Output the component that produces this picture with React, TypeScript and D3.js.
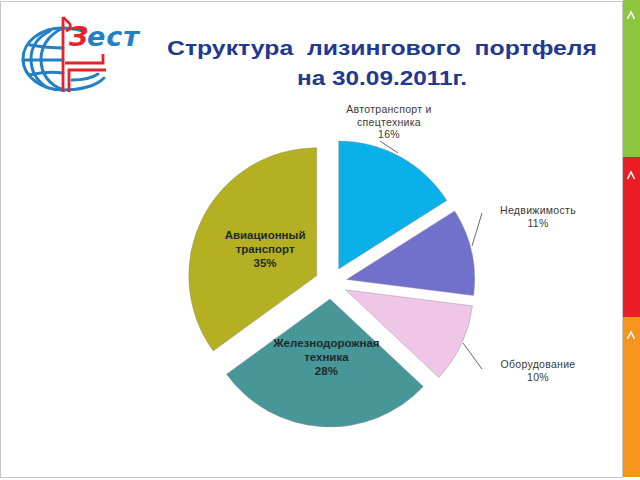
import React from "react";
import * as d3 from "d3";

const categories = ["Автотранспорт и спецтехника", "Недвижимость", "Оборудование", "Железнодорожная техника", "Авиационный транспорт"];
const values = [16, 11, 10, 28, 35];
const colors = ["#0AB0EA", "#7171CB", "#F0C6E8", "#479799", "#B5AF22"];
const labelLines = [["Автотранспорт и", "спецтехника"], ["Недвижимость"], ["Оборудование"], ["Железнодорожная", "техника"], ["Авиационный", "транспорт"]];
const titleLines = ["Структура  лизингового  портфеля", "на 30.09.2011г."];
const stripColors = ["#8CC63E", "#EC1C24", "#F6941E"];

// layout
const W = 640, H = 480;
const cx = 331, cy = 283, R = 128, explode = 16;
const titleWidths = [430, 170];
const outside: Record<number, { x: number; y: number; line: [number, number, number, number] }> = {
  0: { x: 389, y: 113, line: [380, 141, 398, 153] },
  1: { x: 538, y: 214, line: [482, 213, 472, 246] },
  2: { x: 538, y: 368, line: [463, 343, 482, 369] },
};

export default function App() {
  const pie = d3.pie<number>().sort(null).startAngle(0).endAngle(2 * Math.PI).value((d) => d);
  const arcs = pie(values);
  const arc = d3.arc<d3.PieArcDatum<number>>().innerRadius(0).outerRadius(R);
  const fmt = (v: number) => `${v}%`;

  return (
    <svg width={W} height={H} style={{ position: "absolute", left: 0, top: 0, background: "#fff" }} fontFamily="'Liberation Sans', Arial, sans-serif">
      <rect x={0.5} y={1.5} width={W - 18} height={476} fill="none" stroke="#C8C8C8" strokeWidth={1} />
      {stripColors.map((c, i) => (
        <g key={i}>
          <rect x={623} y={i === 0 ? 0 : i * 160 - 3} width={17} height={i === 0 ? 157 : 160} fill={c} />
          <path d={`M627.5,${i * 160 + 19} L631,${i * 160 + 12} L634.5,${i * 160 + 19}`} fill="none" stroke="#fff" strokeWidth={1.6} />
        </g>
      ))}

      {/* logo */}
      <g fill="none" strokeWidth={3} stroke="#2280C4" strokeLinecap="round">
        <path d="M63,28 C40,28 23,42 23,59 C23,77 42,90 63,90 C80,90 96,86 104,78" />
        <path d="M63,28 C48,35 41,47 41,59 C41,73 48,84 63,90" />
        <path d="M50,31 C36,38 31,48 31,59 C31,70 36,80 46,87" />
        <path d="M30,45 C42,47 54,48 63,48" />
        <path d="M23,60 L63,60" />
        <path d="M29,75 C42,72 55,72 63,73" />
        <path d="M63,28 C72,28 80,30 86,32" />
        <path d="M72,80 C82,80 92,78 98,74" />
      </g>
      <g fill="none" stroke="#E42429" strokeWidth={2.8}>
        <path d="M63,17 L63,92" />
        <path d="M63,17 C67,22 72,23 70,29 L66,31" />
        <path d="M65,63 L103,63 L103,54" />
        <path d="M69,92 L69,70 L106,70" />
      </g>
      <text x={69} y={46} fontSize={27} fontWeight="bold" fontStyle="italic" fill="#E42429" fontFamily="'DejaVu Sans', sans-serif">З</text>
      <text x={87} y={46} fontSize={27} fontWeight="bold" fontStyle="italic" fill="#2280C4" letterSpacing={1} fontFamily="'DejaVu Sans', sans-serif">ест</text>

      {/* title */}
      {titleLines.map((t, i) => (
        <text
          key={i}
          x={382}
          y={55 + i * 30}
          textAnchor="middle"
          fontSize={21}
          fontWeight="bold"
          fill="#1F3A8E"
          textLength={titleWidths[i]}
          lengthAdjust="spacingAndGlyphs"
          style={{ whiteSpace: "pre" }}
        >
          {t}
        </text>
      ))}

      {/* pie */}
      <g transform={`translate(${cx},${cy})`}>
        {arcs.map((a, i) => {
          const mid = (a.startAngle + a.endAngle) / 2;
          const dx = Math.sin(mid) * explode;
          const dy = -Math.cos(mid) * explode;
          return <path key={i} d={arc(a) || ""} transform={`translate(${dx},${dy})`} fill={colors[i]} stroke="#8a8a8a" strokeWidth={0.4} />;
        })}
        {arcs.map((a, i) => {
          if (outside[i]) return null;
          const mid = (a.startAngle + a.endAngle) / 2;
          const r = explode + 58;
          const x = Math.sin(mid) * r;
          const y = -Math.cos(mid) * r;
          const lines = [...labelLines[i], fmt(values[i])];
          return (
            <text key={"l" + i} textAnchor="middle" fontSize={11.5} fontWeight="bold" fill="#1E2A2A">
              {lines.map((l, k) => (
                <tspan key={k} x={x} y={y - 10 + k * 14}>
                  {l}
                </tspan>
              ))}
            </text>
          );
        })}
      </g>
      {arcs.map((a, i) => {
        const o = outside[i];
        if (!o) return null;
        const lines = [...labelLines[i], fmt(values[i])];
        return (
          <g key={"o" + i}>
            <line x1={o.line[0]} y1={o.line[1]} x2={o.line[2]} y2={o.line[3]} stroke="#404040" strokeWidth={0.8} />
            <text textAnchor="middle" fontSize={10.5} fill="#3A3A3A" letterSpacing={0.3}>
              {lines.map((l, k) => (
                <tspan key={k} x={o.x} y={o.y + k * 12.5}>
                  {l}
                </tspan>
              ))}
            </text>
          </g>
        );
      })}
    </svg>
  );
}
